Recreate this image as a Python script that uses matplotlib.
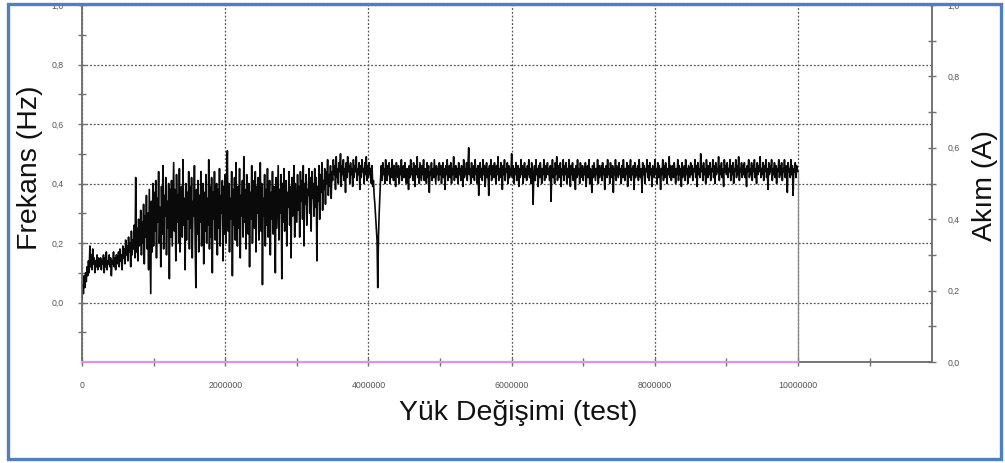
import numpy as np
import matplotlib.pyplot as plt
from matplotlib.ticker import FixedLocator, FuncFormatter
from matplotlib.patches import Rectangle

plt.rcParams['font.family'] = ['Liberation Sans', 'DejaVu Sans']

# frekans (Hz), one value every 10000 tests from 0 to 10000000 (25 per row = 250000 tests),
# then the drop at the end of the record
frekans = [
    0.01, 0.06, 0.03, 0.09, 0.05, 0.10, 0.07, 0.12, 0.09, 0.14, 0.10, 0.19, 0.12, 0.16, 0.11, 0.18, 0.13, 0.15, 0.10, 0.14, 0.12, 0.16, 0.11, 0.15, 0.13,
    0.12, 0.15, 0.11, 0.14, 0.13, 0.16, 0.10, 0.15, 0.12, 0.17, 0.11, 0.14, 0.13, 0.16, 0.12, 0.15, 0.09, 0.14, 0.13, 0.17, 0.12, 0.15, 0.11, 0.16, 0.14,
    0.13, 0.17, 0.12, 0.18, 0.14, 0.16, 0.11, 0.19, 0.15, 0.18, 0.13, 0.21, 0.16, 0.19, 0.14, 0.22, 0.17, 0.20, 0.12, 0.24, 0.16, 0.21, 0.18, 0.26, 0.15,
    0.42, 0.17, 0.25, 0.14, 0.28, 0.19, 0.23, 0.31, 0.16, 0.27, 0.20, 0.33, 0.13, 0.29, 0.22, 0.36, 0.18, 0.30, 0.11, 0.38, 0.21, 0.03, 0.34, 0.17, 0.40,
    0.19, 0.37, 0.24, 0.41, 0.15, 0.35, 0.27, 0.44, 0.20, 0.32, 0.12, 0.39, 0.23, 0.46, 0.18, 0.36, 0.29, 0.42, 0.16, 0.34, 0.25, 0.40, 0.08, 0.38, 0.22,
    0.41, 0.19, 0.33, 0.47, 0.24, 0.38, 0.14, 0.43, 0.27, 0.36, 0.20, 0.45, 0.17, 0.31, 0.39, 0.22, 0.48, 0.26, 0.35, 0.11, 0.40, 0.21, 0.37, 0.28, 0.44,
    0.18, 0.39, 0.25, 0.42, 0.15, 0.34, 0.29, 0.46, 0.21, 0.05, 0.38, 0.23, 0.41, 0.17, 0.36, 0.27, 0.44, 0.19, 0.32, 0.40, 0.13, 0.37, 0.24, 0.43, 0.20,
    0.35, 0.26, 0.48, 0.18, 0.39, 0.22, 0.42, 0.10, 0.37, 0.28, 0.44, 0.21, 0.33, 0.40, 0.16, 0.38, 0.25, 0.45, 0.19, 0.36, 0.30, 0.41, 0.14, 0.39, 0.23,
    0.43, 0.20, 0.37, 0.51, 0.24, 0.40, 0.17, 0.35, 0.28, 0.44, 0.09, 0.38, 0.26, 0.42, 0.21, 0.47, 0.31, 0.19, 0.39, 0.25, 0.45, 0.15, 0.36, 0.29, 0.41,
    0.22, 0.49, 0.27, 0.38, 0.18, 0.43, 0.32, 0.23, 0.40, 0.12, 0.37, 0.28, 0.46, 0.20, 0.34, 0.41, 0.25, 0.44, 0.17, 0.39, 0.30, 0.42, 0.21, 0.36, 0.47,
    0.24, 0.40, 0.06, 0.35, 0.29, 0.43, 0.19, 0.38, 0.26, 0.45, 0.22, 0.33, 0.41, 0.16, 0.37, 0.28, 0.44, 0.23, 0.39, 0.31, 0.10, 0.42, 0.25, 0.36, 0.46,
    0.21, 0.38, 0.30, 0.43, 0.08, 0.40, 0.27, 0.45, 0.24, 0.35, 0.41, 0.19, 0.37, 0.32, 0.44, 0.26, 0.39, 0.15, 0.42, 0.29, 0.36, 0.46, 0.22, 0.40, 0.33,
    0.27, 0.43, 0.31, 0.39, 0.22, 0.44, 0.34, 0.41, 0.28, 0.46, 0.19, 0.40, 0.33, 0.43, 0.26, 0.38, 0.36, 0.45, 0.30, 0.42, 0.24, 0.44, 0.35, 0.40, 0.29,
    0.45, 0.32, 0.42, 0.14, 0.39, 0.34, 0.46, 0.28, 0.43, 0.37, 0.47, 0.31, 0.41, 0.38, 0.45, 0.33, 0.44, 0.40, 0.48, 0.36, 0.43, 0.39, 0.46, 0.35, 0.44,
    0.41, 0.48, 0.43, 0.46, 0.38, 0.49, 0.42, 0.45, 0.40, 0.47, 0.44, 0.50, 0.39, 0.46, 0.43, 0.48, 0.41, 0.45, 0.37, 0.47, 0.42, 0.49, 0.44, 0.46, 0.40,
    0.47, 0.43, 0.45, 0.39, 0.48, 0.42, 0.46, 0.44, 0.49, 0.41, 0.45, 0.43, 0.47, 0.38, 0.46, 0.42, 0.48, 0.44, 0.45, 0.40, 0.47, 0.43, 0.49, 0.41, 0.46,
    0.42, 0.47, 0.43, 0.45, 0.40, 0.46, 0.39, 0.41, 0.36, 0.33, 0.29, 0.25, 0.21, 0.05, 0.22, 0.30, 0.36, 0.42, 0.46, 0.41, 0.47, 0.43, 0.45, 0.40, 0.48,
    0.44, 0.41, 0.46, 0.43, 0.47, 0.40, 0.45, 0.42, 0.48, 0.44, 0.41, 0.46, 0.43, 0.39, 0.47, 0.44, 0.42, 0.46, 0.40, 0.45, 0.43, 0.48, 0.41, 0.44, 0.46,
    0.42, 0.47, 0.43, 0.40, 0.45, 0.44, 0.38, 0.46, 0.42, 0.48, 0.43, 0.45, 0.41, 0.47, 0.44, 0.39, 0.46, 0.43, 0.49, 0.42, 0.45, 0.40, 0.47, 0.44, 0.41,
    0.46, 0.43, 0.48, 0.41, 0.45, 0.44, 0.40, 0.47, 0.42, 0.46, 0.37, 0.44, 0.43, 0.47, 0.41, 0.45, 0.42, 0.48, 0.44, 0.40, 0.46, 0.43, 0.45, 0.41, 0.47,
    0.43, 0.46, 0.40, 0.44, 0.47, 0.42, 0.45, 0.38, 0.46, 0.43, 0.48, 0.41, 0.44, 0.46, 0.42, 0.47, 0.40, 0.45, 0.43, 0.49, 0.41, 0.44, 0.46, 0.42, 0.45,
    0.40, 0.47, 0.43, 0.45, 0.41, 0.46, 0.44, 0.39, 0.48, 0.42, 0.45, 0.43, 0.47, 0.41, 0.46, 0.52, 0.43, 0.45, 0.40, 0.47, 0.42, 0.44, 0.46, 0.41, 0.48,
    0.43, 0.45, 0.40, 0.46, 0.36, 0.44, 0.47, 0.42, 0.45, 0.41, 0.48, 0.43, 0.46, 0.39, 0.44, 0.47, 0.42, 0.45, 0.36, 0.46, 0.43, 0.48, 0.41, 0.44, 0.46,
    0.42, 0.47, 0.44, 0.40, 0.46, 0.43, 0.49, 0.41, 0.45, 0.42, 0.47, 0.44, 0.38, 0.46, 0.43, 0.48, 0.41, 0.45, 0.44, 0.47, 0.40, 0.46, 0.42, 0.45, 0.43,
    0.50, 0.42, 0.46, 0.40, 0.45, 0.43, 0.47, 0.41, 0.44, 0.46, 0.39, 0.45, 0.42, 0.48, 0.43, 0.46, 0.40, 0.44, 0.47, 0.42, 0.45, 0.41, 0.46, 0.43, 0.48,
    0.42, 0.45, 0.40, 0.47, 0.43, 0.33, 0.44, 0.46, 0.41, 0.48, 0.43, 0.45, 0.39, 0.46, 0.42, 0.47, 0.44, 0.40, 0.45, 0.43, 0.48, 0.41, 0.46, 0.42, 0.44,
    0.47, 0.43, 0.45, 0.41, 0.46, 0.34, 0.44, 0.48, 0.42, 0.45, 0.40, 0.47, 0.43, 0.49, 0.41, 0.44, 0.46, 0.42, 0.47, 0.39, 0.45, 0.43, 0.48, 0.41, 0.46,
    0.43, 0.47, 0.40, 0.45, 0.42, 0.48, 0.44, 0.39, 0.46, 0.43, 0.47, 0.41, 0.45, 0.44, 0.38, 0.46, 0.42, 0.48, 0.43, 0.45, 0.40, 0.47, 0.44, 0.42, 0.46,
    0.41, 0.45, 0.43, 0.47, 0.39, 0.44, 0.46, 0.42, 0.48, 0.40, 0.45, 0.43, 0.37, 0.46, 0.42, 0.47, 0.44, 0.41, 0.45, 0.43, 0.48, 0.40, 0.46, 0.42, 0.44,
    0.46, 0.41, 0.47, 0.43, 0.45, 0.38, 0.44, 0.46, 0.42, 0.48, 0.43, 0.45, 0.40, 0.47, 0.44, 0.42, 0.46, 0.37, 0.45, 0.43, 0.48, 0.41, 0.46, 0.44, 0.42,
    0.47, 0.43, 0.45, 0.40, 0.46, 0.42, 0.48, 0.44, 0.41, 0.45, 0.43, 0.47, 0.39, 0.46, 0.42, 0.44, 0.48, 0.41, 0.45, 0.43, 0.46, 0.38, 0.47, 0.42, 0.45,
    0.43, 0.46, 0.41, 0.48, 0.44, 0.42, 0.45, 0.37, 0.47, 0.43, 0.46, 0.40, 0.45, 0.44, 0.48, 0.42, 0.46, 0.41, 0.47, 0.43, 0.45, 0.39, 0.46, 0.44, 0.42,
    0.48, 0.43, 0.45, 0.40, 0.47, 0.42, 0.46, 0.44, 0.38, 0.45, 0.43, 0.48, 0.41, 0.46, 0.42, 0.47, 0.44, 0.40, 0.45, 0.43, 0.49, 0.42, 0.46, 0.41, 0.44,
    0.46, 0.42, 0.47, 0.44, 0.40, 0.45, 0.43, 0.48, 0.41, 0.46, 0.43, 0.45, 0.39, 0.47, 0.42, 0.44, 0.46, 0.41, 0.48, 0.43, 0.45, 0.40, 0.46, 0.44, 0.42,
    0.47, 0.43, 0.46, 0.41, 0.45, 0.44, 0.48, 0.42, 0.46, 0.39, 0.47, 0.43, 0.45, 0.42, 0.50, 0.44, 0.46, 0.41, 0.47, 0.43, 0.45, 0.40, 0.48, 0.44, 0.42,
    0.46, 0.43, 0.47, 0.41, 0.45, 0.44, 0.48, 0.42, 0.46, 0.40, 0.47, 0.43, 0.45, 0.44, 0.49, 0.41, 0.46, 0.43, 0.47, 0.42, 0.45, 0.39, 0.48, 0.44, 0.46,
    0.43, 0.47, 0.42, 0.45, 0.44, 0.48, 0.41, 0.46, 0.43, 0.47, 0.40, 0.45, 0.44, 0.48, 0.42, 0.46, 0.43, 0.49, 0.41, 0.45, 0.44, 0.47, 0.42, 0.46, 0.43,
    0.47, 0.42, 0.45, 0.39, 0.46, 0.44, 0.48, 0.42, 0.45, 0.43, 0.47, 0.41, 0.46, 0.44, 0.48, 0.42, 0.45, 0.40, 0.47, 0.43, 0.46, 0.44, 0.49, 0.42, 0.45,
    0.43, 0.47, 0.41, 0.46, 0.44, 0.48, 0.42, 0.45, 0.38, 0.47, 0.43, 0.46, 0.44, 0.48, 0.41, 0.45, 0.43, 0.47, 0.42, 0.46, 0.40, 0.45, 0.44, 0.48, 0.42,
    0.46, 0.43, 0.47, 0.41, 0.45, 0.44, 0.48, 0.42, 0.46, 0.43, 0.37, 0.47, 0.44, 0.45, 0.42, 0.48, 0.43, 0.46, 0.36, 0.45, 0.44, 0.47, 0.42, 0.46, 0.44,
    0.44, -0.20,
]
yuk = np.append(np.linspace(0, 10000000, len(frekans) - 1), 10000000)

# akim (A) on the right axis
akim_x = [0, 10000000]
akim = [0.0, 0.0]

x_ticks = [0, 2000000, 4000000, 6000000, 8000000, 10000000]
x_minor = [1000000, 3000000, 5000000, 7000000, 9000000, 11000000]
left_ticks = [0.0, 0.2, 0.4, 0.6, 0.8, 1.0]
left_minor = [-0.1, 0.1, 0.3, 0.5, 0.7, 0.9]
right_ticks = [0.0, 0.2, 0.4, 0.6, 0.8, 1.0]
right_minor = [0.1, 0.3, 0.5, 0.7, 0.9]

fig = plt.figure(figsize=(10.05, 4.63), dpi=100)
ax = fig.add_axes([82/1005, 101/463, 850/1005, 357/463])
ax2 = ax.twinx()

spine_col = '#707070'
grid_col = '#555555'
lbl_col = '#555555'

# the trace itself, and the thin drop where the record stops
ax.plot(yuk[:-1], frekans[:-1], color='#0a0a0a', lw=1.2, zorder=3)
ax.plot(yuk[-2:], frekans[-2:], color='#888888', lw=0.9, zorder=3)
ax2.plot(akim_x, akim, color='#e490e4', lw=1.6, zorder=5, clip_on=False)

ax.set_xlim(0, 11870000)
ax.set_ylim(-0.2, 1.0)
ax2.set_ylim(0, 1.0)

comma = FuncFormatter(lambda v, p: f"{v:.1f}".replace('.', ','))

ax.xaxis.set_major_locator(FixedLocator(x_ticks))
ax.xaxis.set_minor_locator(FixedLocator(x_minor))
ax.xaxis.set_major_formatter(FuncFormatter(lambda v, p: f"{int(v)}"))
ax.yaxis.set_major_locator(FixedLocator(left_ticks))
ax.yaxis.set_minor_locator(FixedLocator(left_minor))
ax.yaxis.set_major_formatter(comma)
ax2.yaxis.set_major_locator(FixedLocator(right_ticks))
ax2.yaxis.set_minor_locator(FixedLocator(right_minor))
ax2.yaxis.set_major_formatter(comma)

for a in (ax, ax2):
    a.tick_params(which='both', direction='inout', length=6, width=1, color=spine_col,
                  labelsize=6.3, labelcolor=lbl_col)
    for s in a.spines.values():
        s.set_color(spine_col)
        s.set_linewidth(1.1)
ax.tick_params(axis='x', which='major', pad=11)
ax.tick_params(axis='y', which='major', pad=10)
ax2.tick_params(axis='y', which='major', pad=8)

ax.grid(True, which='major', color=grid_col, linestyle=(0, (1.5, 1.5)), linewidth=0.9, zorder=1)

fig.text(30/1005, 1 - 168/463, 'Frekans (Hz)', rotation=90, fontsize=20.5,
         ha='center', va='center', color='#111111')
fig.text(985/1005, 1 - 186/463, 'Akım (A)', rotation=90, fontsize=20.5,
         ha='center', va='center', color='#111111')
fig.text(518/1005, 1 - 413/463, 'Yük Değişimi (test)', fontsize=20.5,
         ha='center', va='center', color='#111111')

# blue frame
fig.patches.append(Rectangle((8/1005, 4/463), 993/1005, 455/463, transform=fig.transFigure,
                             fill=False, edgecolor='#4f7fbf', linewidth=2.4))

fig.savefig('out.png', dpi=100)
